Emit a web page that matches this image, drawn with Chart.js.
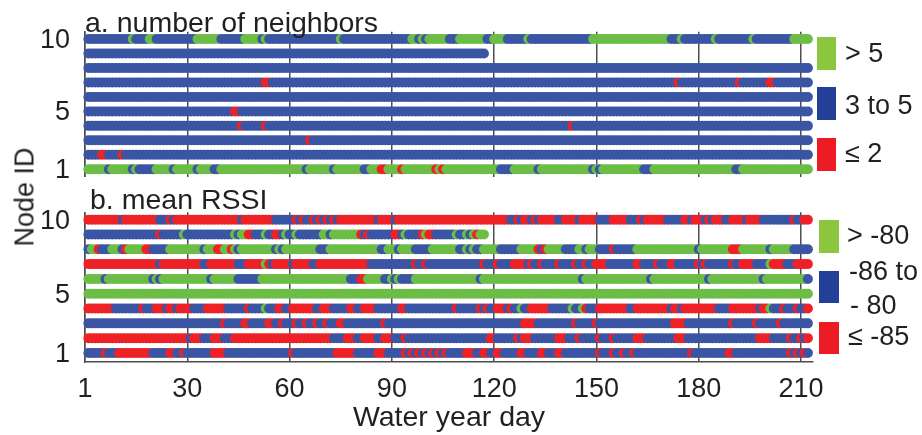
<!DOCTYPE html>
<html>
<head>
<meta charset="utf-8">
<script src="https://cdn.jsdelivr.net/npm/chart.js@4.4.1/dist/chart.umd.min.js"></script>
<style>
  html, body { margin: 0; padding: 0; background: #fff; }
  #wrap { position: relative; width: 922px; height: 435px; font-family: "Liberation Sans", Arial, sans-serif; color: #231f20; }
  #wrap canvas { position: absolute; left: 0; top: 0; }
  .txt { position: absolute; font-size: 27px; line-height: 27px; white-space: nowrap; }
  .head { font-size: 28.5px; }
  .key { position: absolute; width: 19px; height: 33px; }
</style>
</head>
<body>
<div id="wrap">
  <canvas id="chartA" width="922" height="435"></canvas>
  <canvas id="chartB" width="922" height="435"></canvas>
  <div class="txt head" style="left:85px;top:9px">a. number of neighbors</div>
  <div class="txt head" style="left:90px;top:186px">b. mean RSSI</div>
  <div class="txt" style="left:25px;top:197px;transform:translate(-50%,-50%) rotate(-90deg)">Node ID</div>

  <div class="key" style="left:817px;top:37px;background:#8cc63f"></div>
  <div class="key" style="left:817px;top:87px;background:#233f98"></div>
  <div class="key" style="left:817px;top:138px;background:#ed1c24"></div>
  <div class="txt" style="left:845px;top:40px">&gt; 5</div>
  <div class="txt" style="left:845px;top:92px">3 to 5</div>
  <div class="txt" style="left:845px;top:140px">≤ 2</div>

  <div class="key" style="left:819px;top:220px;width:20px;background:#8cc63f"></div>
  <div class="key" style="left:819px;top:271px;width:20px;height:32px;background:#233f98"></div>
  <div class="key" style="left:819px;top:322px;width:20px;height:32px;background:#ed1c24"></div>
  <div class="txt" style="left:847px;top:222px">&gt; -80</div>
  <div class="txt" style="left:849px;top:258px">-86 to</div>
  <div class="txt" style="left:850px;top:292px">- 80</div>
  <div class="txt" style="left:848px;top:323px">≤ -85</div>
</div>
<script>
// x axis: water year day, tick at 0 is labelled "1"
const xTickValues = [0, 30, 60, 90, 120, 150, 180, 210];
const xTickLabels = ['1', '30', '60', '90', '120', '150', '180', '210'];
const yTickValues = [1, 5, 10];

// G / B / R = top / middle / bottom class of each panel's legend
const neighborClasses = ['> 5', '3 to 5', '≤ 2'];
const rssiClasses = ['> -80', '-86 to - 80', '≤ -85'];

// a. number of neighbors, runs of days per node
const nbr10 = ['B1-13','G14','B15-18','G19-20','B21-32','G33-39','B40-46','G47-51','B52','G53','B54-74','G75','B76-95','G96-97','B98','G99','B100','G101-106','B107-109','G110-117','B118-119','G120-123','B124-129','G130','B131-148','G149-171','B172-174','G175','B176-184','G185','B186-195','G196','B197-207','G208-212'];
const nbr9 = ['B1-117'];
const nbr8 = ['B1-212'];
const nbr7 = ['B1-52','R53-54','B55-173','R174','B175-191','R192','B193-200','R201-202','B203-212'];
const nbr6 = ['B1-212'];
const nbr5 = ['B1-43','R44-45','B46-212'];
const nbr4 = ['B1-45','R46','B47-52','R53','B54-142','R143','B144-212'];
const nbr3 = ['B1-65','R66','B67-212'];
const nbr2 = ['B1-4','R5-6','B7-10','R11','B12-212'];
const nbr1 = ['G1-6','B7','G8-13','B14','G15','B16-20','G21-25','B26','G27-32','B33','G34-37','B38-39','G40-64','B65','G66-72','B73','G74-81','B82-83','G84-86','R87-88','G89-92','R93','G94-102','R103','G104','R105','G106-121','B122-125','G126-132','B133','G134-148','B149','G150','B151','G152-163','B164-166','G167-190','B191-192','G193-212'];

// b. mean RSSI, runs of days per node
const rssi10 = ['R1-10','B11','R12-21','B22-24','R25','B26','R27-45','B46','R47-55','B56-61','R62','B63','R64','B65-66','R67','B68','R69','B70','R71','B72','R73','B74','R75-85','B86','R87-90','B91','R92-124','B125-126','R127','B128','R129-130','B131','R132','B133','R134-138','B139-140','R141-144','B145','R146-150','B151-154','R155-159','B160-162','R163','B164','R165-170','B171-175','R176-177','B178','R179-181','B182','R183','B184','R185-187','B188-189','R190-193','B194','R195-198','B199-207','R208','B209-210','R211-212'];
const rssi9 = ['B1-21','R22','B23-28','G29','B30-43','G44','B45','G46-47','R48-49','B50-52','G53','B54-55','R56-57','B58','G59','B60-61','G62','B63-69','G70-71','B72','G73-80','R81','B82','R83','B84-90','R91-92','B93','G94','B95-98','R99','G100','R101-102','B103-108','G109','B110-111','G112','B113','G114','R115','G116-117'];
const rssi8 = ['B1','G2-3','R4','B5-7','G8-10','B11','R12','G13-17','R18-19','B20-24','G25-34','B35','G36-38','R39-40','G41-42','R43','G44','B45','G46-55','B56','G57','B58','G59-68','B69-71','G72-86','B87-88','G89-91','B92','G93-96','B97-101','G102-109','B110-111','G112','B113','G114','B115-116','G117-121','B122-127','G128-132','R133','B134','R135','G136-140','B141-144','G145-146','B147','G148-150','B151-154','R155','B156-161','G162-179','B180','G181-189','R190-192','G193-200','B201','G202-207','B208-212'];
const rssi7 = ['R1-21','B22','R23-34','B35-36','R37-44','B45-47','R48-52','G53','R54','B55','R56-60','B61','R62-66','B67-68','R69-83','B84-96','R97','B98-99','R100','B101-116','R117','B118-120','R121','B122-125','R126-129','B130','R131','B132-133','R134','B135-138','R139','B140-143','R144','B145-146','R147','B148-149','R150-153','B154-161','R162-163','B164-167','R168','B169-171','R172-173','B174-179','R180','B181','R182','B183-189','R190','B191-192','R193-196','B197-200','G201','R202-205','B206-208','R209-212'];
const rssi6 = ['G1-5','B6','G7-19','B20','G21','B22','G23-36','B37','G38-44','B45-51','G52-77','B78-80','R81-82','G83-87','B88-89','G90','B91','G92','B93-96','G97-115','B116','G117-145','B146','G147-165','B166','G167-182','B183','G184-198','B199','G200-211','B212'];
const rssi5 = ['G1-212'];
const rssi4 = ['R1-8','B9-16','R17','B18-20','R21-23','B24','R25-26','B27','R28-31','B32-35','R36-41','B42-47','R48','B49-52','G53','B54-56','R57-58','B59-60','R61-67','B68-69','R70-72','B73-77','R78-79','B80-81','R82-85','B86-92','R93-94','B95-108','R109','B110-115','R116','B117','R118','B119-120','R121-123','B124','R125','B126-127','G128','B129-130','R131-136','B137-142','G143','B144-145','G146','R147','B148-150','R151-159','B160-161','R162-171','B172','R173-174','B175','R176-185','B186-189','R190-197','B198','R199-200','G201','B202-204','R205','B206-208','R209','B210-211','R212'];
const rssi3 = ['B1-40','R41','B42-46','R47-48','B49-53','R54-55','B56-57','R58','B59-61','R62','B63-64','R65','B66-67','R68','B69-70','R71','B72-74','R75-76','B77-87','R88','B89-128','R129-132','B133-143','R144','B145-149','R150','B151-172','R173-176','B177-189','R190','B191-196','R197','B198-203','R204','B205-212'];
const rssi2 = ['R1-30','B31','R32-34','B35-37','R38-40','B41-43','R44-72','B73-76','R77-79','B80-81','R82-85','B86-87','R88-90','B91-93','R94','B95-118','R119-120','B121-126','R127','B128','R129-131','B132-138','R139-141','B142-144','R145','B146-150','R151','B152-154','R155','B156-161','R162-164','B165-173','R174-176','B177-197','R198-201','B202-206','R207','B208-209','R210','B211','R212'];
const rssi1 = ['B1-5','R6','B7-9','R10-19','B20-24','R25-26','B27-28','R29','B30-37','R38-41','B42-60','R61','B62-73','R74-79','B80-85','R86-88','B89-93','R94','B95','R96','B97','R98','B99','R100','B101','R102','B103','R104','B105','R106','B107-111','R112-114','B115-116','R117-118','B119-120','R121-122','B123-127','R128-129','B130-133','R134-135','B136-138','R139-140','B141-150','R151','B152-154','R155','B156-157','R158','B159-160','R161','B162-177','R178','B179-188','R189-190','B191-206','R207','B208','R209','B210','R211','B212'];

const neighborRows = [nbr1, nbr2, nbr3, nbr4, nbr5, nbr6, nbr7, nbr8, nbr9, nbr10];
const rssiRows = [rssi1, rssi2, rssi3, rssi4, rssi5, rssi6, rssi7, rssi8, rssi9, rssi10];

const dotColors = { G: '#6cbd45', B: '#3a55a4', R: '#ee2226' };
const ink = '#231f20';
const gridInk = '#4d4d4d';
const font = { family: '"Liberation Sans", Arial, sans-serif', size: 27 };
const titleFont = { family: '"Liberation Sans", Arial, sans-serif', size: 28.5 };

function expandRuns(runs) {
  const days = [];
  runs.forEach((run) => {
    const code = run[0];
    const [from, to] = run.slice(1).split('-').map(Number);
    for (let d = from; d <= (to || from); d++) days.push({ day: d, code });
  });
  return days;
}

function rowDatasets(rows) {
  return rows.map((runs, i) => {
    const days = expandRuns(runs);
    return {
      label: 'Node ' + (i + 1),
      data: days.map((p) => ({ x: p.day, y: i + 1 })),
      pointBackgroundColor: days.map((p) => dotColors[p.code]),
      pointBorderWidth: 0,
      pointRadius: 5,
      pointHoverRadius: 5,
      clip: false,
    };
  });
}

function panel(canvasId, rows, opts) {
  return new Chart(document.getElementById(canvasId), {
    type: 'scatter',
    data: { datasets: rowDatasets(rows) },
    options: {
      responsive: false,
      animation: false,
      events: [],
      layout: { padding: opts.padding },
      plugins: { legend: { display: false }, tooltip: { enabled: false } },
      scales: {
        x: {
          type: 'linear',
          min: 0,
          max: 213.5,
          afterBuildTicks: (s) => { s.ticks = xTickValues.map((v) => ({ value: v })); },
          ticks: {
            display: opts.showX,
            font, color: ink, padding: 11, maxRotation: 0,
            callback: (v) => xTickLabels[xTickValues.indexOf(v)],
          },
          grid: { color: gridInk, lineWidth: 1.5, drawTicks: false },
          border: { display: opts.showX, color: gridInk, width: 1.5 },
          title: {
            display: opts.showX, text: 'Water year day', font: titleFont, color: ink,
            padding: { top: 0, bottom: 0 },
          },
          afterFit: (s) => { s.height = opts.xHeight; },
        },
        y: {
          min: opts.yMin,
          max: 10.5,
          afterBuildTicks: (s) => { s.ticks = yTickValues.map((v) => ({ value: v })); },
          ticks: { font, color: ink, padding: 15, labelOffset: 1.5 },
          grid: { display: false, drawTicks: false },
          border: { display: true, color: gridInk, width: 1.5 },
          afterFit: (s) => { s.width = 85; },
        },
      },
    },
  });
}

panel('chartA', neighborRows, {
  padding: { top: 31.8, right: 109, bottom: 258.5, left: 0 },
  showX: false, xHeight: 0, yMin: 0.5,
});
panel('chartB', rssiRows, {
  padding: { top: 212.3, right: 109, bottom: 0, left: 0 },
  showX: true, xHeight: 73, yMin: 0.39,
});
</script>
</body>
</html>
